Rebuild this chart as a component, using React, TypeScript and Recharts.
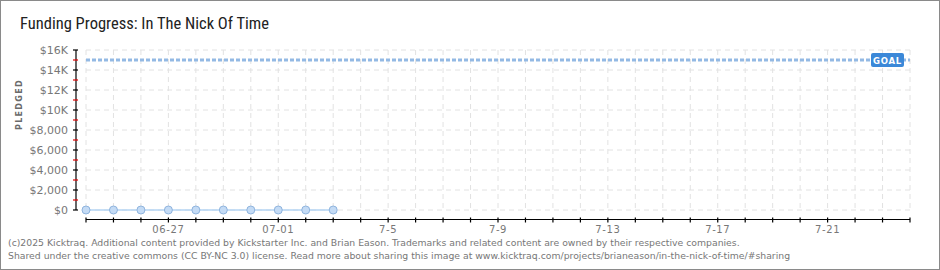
import React from 'react';
import {
  LineChart,
  Line,
  XAxis,
  YAxis,
  CartesianGrid,
  ReferenceLine,
} from 'recharts';

// ---- data ----
const days = ['06-24', '06-25', '06-26', '06-27', '06-28', '06-29', '06-30', '07-01', '07-02', '07-03'];
const pledged = [0, 0, 0, 0, 0, 0, 0, 0, 0, 0];
const goal = 15000;

const xTicks = [0, 1, 2, 3, 4, 5, 6, 7, 8, 9, 10, 11, 12, 13, 14, 15, 16, 17, 18, 19, 20, 21, 22, 23, 24, 25, 26, 27, 28, 29, 30];
const xLabelIndices = [3, 7, 11, 15, 19, 23, 27];
const xLabelTexts = ['06-27', '07-01', '7-5', '7-9', '7-13', '7-17', '7-21'];

const yMajorTicks = [0, 2000, 4000, 6000, 8000, 10000, 12000, 14000, 16000];
const yMajorLabels = ['$0', '$2,000', '$4,000', '$6,000', '$8,000', '$10K', '$12K', '$14K', '$16K'];
const yMinorTicks = [1000, 3000, 5000, 7000, 9000, 11000, 13000, 15000];
const yAllTicks = [...yMajorTicks, ...yMinorTicks].sort((a, b) => a - b);

const chartData = days.map((d, i) => ({ x: i, date: d, pledged: pledged[i] }));

const FONT = '"DejaVu Sans", Verdana, sans-serif';

const YTick = (props: any) => {
  const { x, y, payload } = props;
  const v = payload.value;
  const idx = yMajorTicks.indexOf(v);
  const ax = x - 10;
  const isMajor = idx >= 0;
  return (
    <g>
      <line x1={ax - 3} x2={ax + 2} y1={y} y2={y} stroke={isMajor ? '#000' : '#e00000'} strokeWidth={1.2} />
      {isMajor && (
        <text x={ax - 8} y={y} dy={4} textAnchor="end" fontFamily={FONT} fontSize={11} fill="#777">
          {yMajorLabels[idx]}
        </text>
      )}
    </g>
  );
};

const XTick = (props: any) => {
  const { x, y, payload } = props;
  const v = payload.value;
  const idx = xLabelIndices.indexOf(v);
  return (
    <g>
      <line x1={x} x2={x} y1={y + 7.5} y2={y + 12.5} stroke="#000" strokeWidth={1.2} />
      {idx >= 0 && (
        <text x={x} y={y + 23} textAnchor="middle" fontFamily={FONT} fontSize={10} letterSpacing={0.6} fill="#777">
          {xLabelTexts[idx]}
        </text>
      )}
    </g>
  );
};

const GoalLabel = (props: any) => {
  const vb = props.viewBox || {};
  const right = vb.x + vb.width;
  const cy = vb.y;
  return (
    <g>
      <rect x={right - 39} y={cy - 7} width={33} height={14} rx={2} fill="#3b88d8" />
      <text x={right - 22.5} y={cy + 3.5} textAnchor="middle" fontFamily={FONT} fontSize={8.5} fontWeight="bold" letterSpacing={0.8} fill="#fff">
        GOAL
      </text>
    </g>
  );
};

export default function App() {
  return (
    <div style={{ position: 'absolute', left: 0, top: 0, width: 940, height: 270, background: '#fff' }}>
      <div
        style={{
          position: 'absolute',
          left: 20,
          top: 15,
          fontFamily: '"Liberation Sans Narrow", "Roboto Condensed", "DejaVu Sans Condensed", sans-serif',
          fontSize: 16.5,
          lineHeight: '18px',
          color: '#222',
          whiteSpace: 'nowrap',
        }}
      >
        Funding Progress: In The Nick Of Time
      </div>
      <div style={{ position: 'absolute', left: 0, top: 0 }}>
        <LineChart width={940} height={270} data={chartData} margin={{ top: 50, right: 30, bottom: 0, left: 26 }}>
          <CartesianGrid
            stroke="#e2e2e2"
            strokeDasharray="5 4"
            horizontalValues={yMajorTicks}
          />
          <XAxis
            dataKey="x"
            type="number"
            domain={[0, 30]}
            ticks={xTicks}
            interval={0}
            height={60}
            tickSize={0}
            tickMargin={0}
            tickLine={false}
            axisLine={{ stroke: '#000', strokeWidth: 1.2, transform: 'translate(0,9.5)' } as any}
            tick={<XTick />}
          />
          <YAxis
            type="number"
            domain={[0, 16000]}
            ticks={yAllTicks}
            interval={0}
            width={60}
            tickSize={0}
            tickMargin={0}
            tickLine={false}
            axisLine={{ stroke: '#000', strokeWidth: 1.2, transform: 'translate(-10,0)' } as any}
            tick={<YTick />}
            label={{
              value: 'PLEDGED',
              angle: -90,
              position: 'insideLeft',
              offset: -7,
              style: { fontFamily: FONT, fontSize: 8, fontWeight: 'bold', letterSpacing: 1.3, fill: '#6a6a6a' },
            } as any}
          />
          <ReferenceLine
            y={goal}
            stroke="#93b9e4"
            strokeWidth={3}
            strokeDasharray="4 2"
            label={<GoalLabel />}
          />
          <Line
            dataKey="pledged"
            stroke="#b5d4f3"
            strokeWidth={1.5}
            isAnimationActive={false}
            dot={{ r: 4, fill: '#c4dbf5', stroke: '#8fb4de', strokeWidth: 1 }}
          />
        </LineChart>
      </div>
      <div
        style={{
          position: 'absolute',
          left: 8,
          top: 237,
          fontFamily: FONT,
          fontSize: 9.3,
          lineHeight: '12.5px',
          color: '#777',
          whiteSpace: 'nowrap',
        }}
      >
        <div>(c)2025 Kicktraq. Additional content provided by Kickstarter Inc. and Brian Eason. Trademarks and related content are owned by their respective companies.</div>
        <div>Shared under the creative commons (CC BY-NC 3.0) license. Read more about sharing this image at www.kicktraq.com/projects/brianeason/in-the-nick-of-time/#sharing</div>
      </div>
      <div
        style={{
          position: 'absolute',
          left: 0,
          top: 0,
          width: 940,
          height: 270,
          boxSizing: 'border-box',
          border: '1px solid #8a8a8a',
          pointerEvents: 'none',
        }}
      />
    </div>
  );
}
